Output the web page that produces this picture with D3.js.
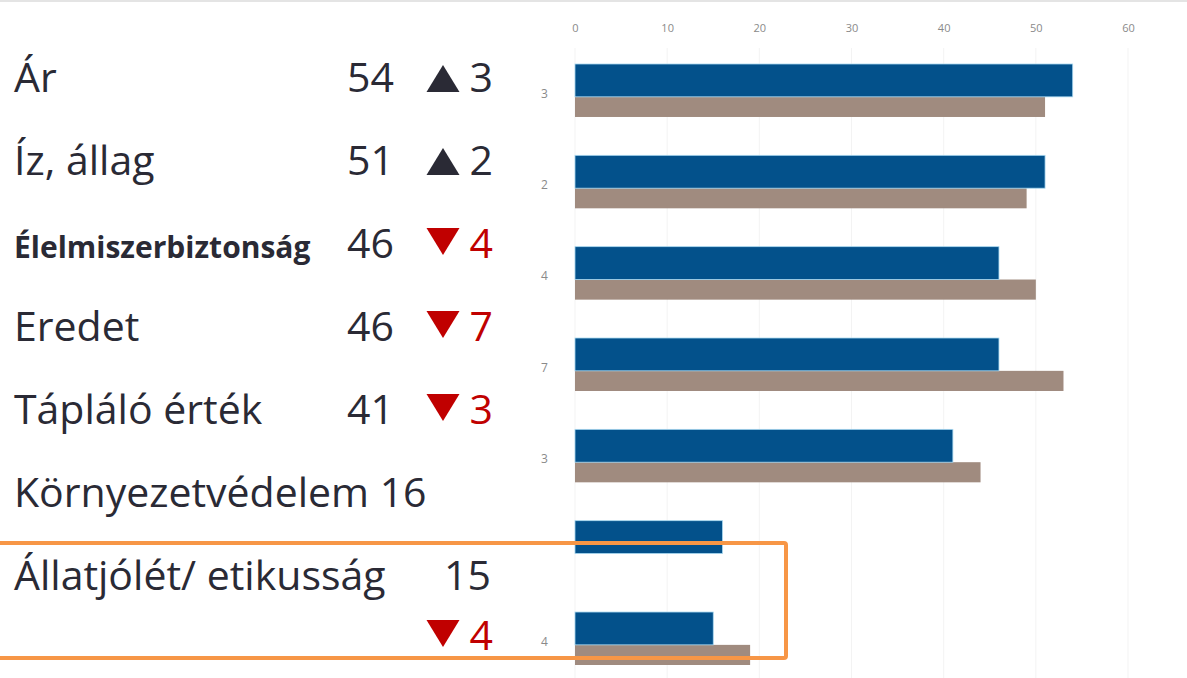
<!DOCTYPE html>
<html>
<head>
<meta charset="utf-8">
<script src="https://cdn.jsdelivr.net/npm/d3@7"></script>
<style>
  html, body { margin: 0; padding: 0; background: #fff; }
  svg { display: block; }
</style>
</head>
<body>
<div id="chart"></div>
<script>
// szempontok (rows, top to bottom)
const names = ['Ár', 'Íz, állag', 'Élelmiszerbiztonság', 'Eredet', 'Tápláló érték', 'Környezetvédelem', 'Állatjólét/ etikusság'];
const current = [54, 51, 46, 46, 41, 16, 15];
const previous = [51, 49, 50, 53, 44, null, 19];
const change = [3, 2, -4, -7, -3, null, -4];
const xTicks = [0, 10, 20, 30, 40, 50, 60];

const width = 1187,
      height = 678;

const svg = d3.select('#chart').append('svg')
  .attr('width', width)
  .attr('height', height);

const font = '"Open Sans", "Noto Sans", sans-serif';
const ink = '#2a2a35',
      red = '#c00000';

// faint slide edge on top
svg.append('line')
  .attr('x1', 0).attr('x2', width)
  .attr('y1', 1).attr('y2', 1)
  .style('stroke', '#e4e4e4')
  .style('stroke-width', 2);

// ---- bar chart on the right ----
let x = d3.scaleLinear().domain([0, 60]).range([575, 1128]);

let rows = d3.range(names.length);
let y = d3.scaleBand().domain(rows).range([64, 665]).paddingInner(0.42).paddingOuter(0);

let grid = svg.append('g');
grid.selectAll('line')
  .data(xTicks)
  .enter().append('line')
    .attr('x1', d => x(d)).attr('x2', d => x(d))
    .attr('y1', 48).attr('y2', height)
    .style('stroke', '#f3f3f3')
    .style('stroke-width', 1);

let xAxis = svg.append('g')
  .attr('transform', 'translate(0,32)')
  .call(d3.axisTop(x).tickValues(xTicks).tickSize(0).tickPadding(0));
xAxis.select('.domain').remove();
xAxis.selectAll('text')
  .style('font-family', font)
  .style('font-size', '11px')
  .style('fill', '#8a8a8a');

let blueH = y.bandwidth() * 0.62;

let bars = svg.append('g');

bars.selectAll('rect.prev')
  .data(rows.filter(i => previous[i] != null))
  .enter().append('rect')
    .attr('class', 'prev')
    .attr('x', x(0))
    .attr('y', i => y(i) + blueH)
    .attr('width', i => x(previous[i]) - x(0))
    .attr('height', y.bandwidth() - blueH)
    .style('fill', '#a08b7f');

bars.selectAll('rect.cur')
  .data(rows)
  .enter().append('rect')
    .attr('class', 'cur')
    .attr('x', x(0))
    .attr('y', i => y(i))
    .attr('width', i => x(current[i]) - x(0))
    .attr('height', blueH)
    .style('fill', '#03518b')
    .style('stroke', '#a8d8f0')
    .style('stroke-width', 0.8);

// change values as the category axis labels
let yAxis = svg.append('g')
  .attr('transform', 'translate(' + (x(0) - 34) + ',0)')
  .call(d3.axisLeft(y).tickSize(0).tickPadding(0)
    .tickFormat(i => change[i] == null ? '' : Math.abs(change[i])));
yAxis.select('.domain').remove();
yAxis.selectAll('text')
  .attr('dy', '0.6em')
  .style('text-anchor', 'start')
  .style('font-family', font)
  .style('font-size', '12px')
  .style('fill', '#8a8a8a');

// ---- text table on the left ----
let pitch = 83,
    base0 = 92;

let table = svg.append('g')
  .style('font-family', font)
  .style('fill', ink);

function triangle(g, cx, baseline, up, color) {
  let w = 33, h = 27;
  let pts = up
    ? [[cx - w / 2, baseline], [cx + w / 2, baseline], [cx, baseline - h]]
    : [[cx - w / 2, baseline - h - 3], [cx + w / 2, baseline - h - 3], [cx, baseline - 3]];
  g.append('path')
    .attr('d', d3.line()(pts) + 'Z')
    .style('fill', color);
}

rows.forEach(i => {
  let b = base0 + i * pitch;
  let g = table.append('g');
  let bold = names[i] === 'Élelmiszerbiztonság';

  let nameText = g.append('text')
    .attr('x', 14)
    .attr('y', b)
    .style('font-size', bold ? '30px' : '41px')
    .style('font-weight', bold ? 700 : 400)
    .text(names[i]);

  if (change[i] == null) {
    // value written right after the name
    nameText.text(names[i] + ' ' + current[i]);
    return;
  }

  let valueX = 394,
      changeBase = b;
  if (i === rows.length - 1) {
    valueX = 491;
    changeBase = b + 60;
  }

  g.append('text')
    .attr('x', valueX)
    .attr('y', b)
    .attr('text-anchor', 'end')
    .style('font-size', '41px')
    .text(current[i]);

  let up = change[i] > 0;
  let col = up ? ink : red;
  triangle(g, 443, changeBase, up, col);
  g.append('text')
    .attr('x', 493)
    .attr('y', changeBase)
    .attr('text-anchor', 'end')
    .style('font-size', '41px')
    .style('fill', col)
    .text(Math.abs(change[i]));
});

// highlight box round the last row
svg.append('rect')
  .attr('x', -4)
  .attr('y', 543)
  .attr('width', 790)
  .attr('height', 115)
  .attr('rx', 2)
  .style('fill', 'none')
  .style('stroke', '#f79646')
  .style('stroke-width', 4);
</script>
</body>
</html>
